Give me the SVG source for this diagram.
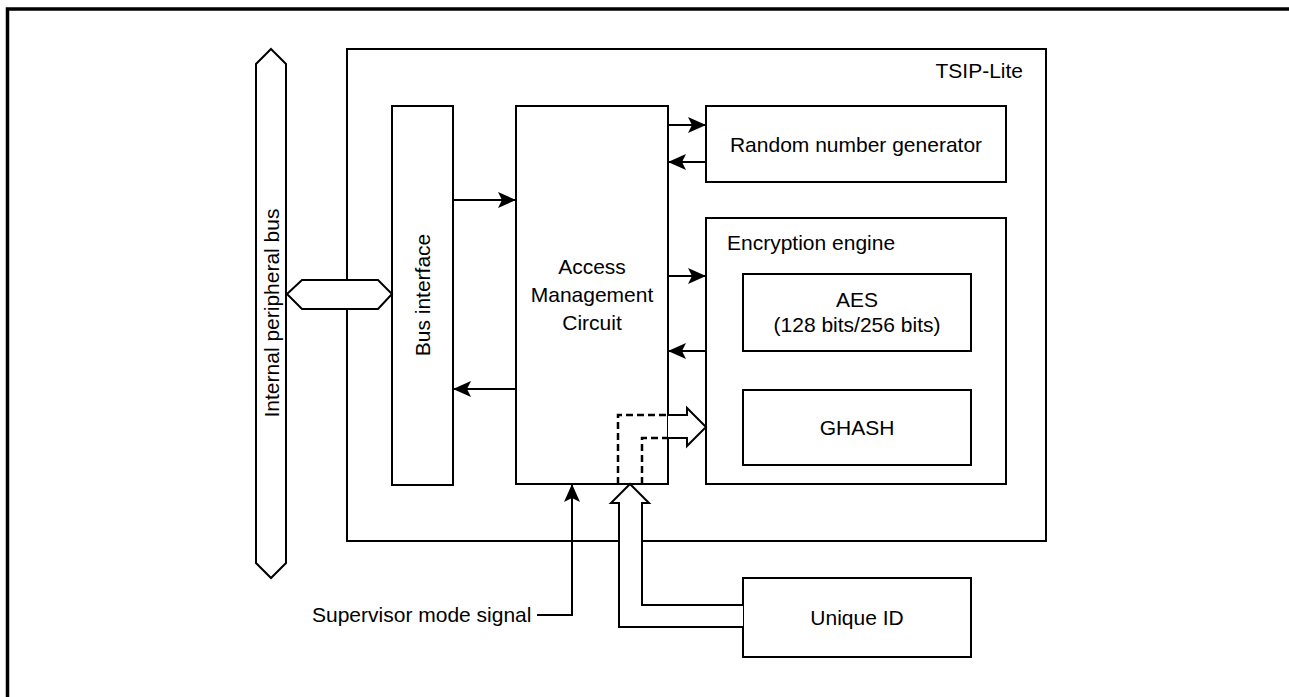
<svg xmlns="http://www.w3.org/2000/svg" width="1289" height="697" viewBox="0 0 1289 697">
<style>
.box{fill:none;stroke:#000;stroke-width:2}
.ln{fill:none;stroke:#000;stroke-width:2}
.dash{fill:none;stroke:#000;stroke-width:2.5;stroke-dasharray:7,4}
.hollow{fill:#fff;stroke:#000;stroke-width:2;stroke-linejoin:miter}
.t{font-family:"Liberation Sans",Arial,sans-serif;font-size:21px;fill:#000}
</style>
<defs>
<marker id="ahb" markerWidth="18" markerHeight="16" refX="18" refY="8" orient="auto" markerUnits="userSpaceOnUse">
<path d="M0,0 L18,8 L0,16 L4,8 Z" fill="#000"/>
</marker>
</defs>
<rect width="1289" height="697" fill="#fff"/>
<path d="M7.5,697 V9 H1289" fill="none" stroke="#000" stroke-width="3.5"/>

<g id="bus">
<polygon class="hollow" points="271,49 286,64 286,563 271,578 256,563 256,64"/>
<text class="t" transform="translate(278.5,313) rotate(-90)" text-anchor="middle">Internal peripheral bus</text>
</g>

<g id="tsip">
<rect class="box" x="347" y="49" width="699" height="492"/>
<text class="t" x="1023" y="78" text-anchor="end">TSIP-Lite</text>
</g>

<g id="busif">
<rect class="box" x="392" y="106" width="61" height="379"/>
<text class="t" transform="translate(430,295) rotate(-90)" text-anchor="middle">Bus interface</text>
</g>

<g id="amc">
<rect class="box" x="516" y="106" width="152" height="378"/>
<text class="t" x="592" y="274" text-anchor="middle">Access</text>
<text class="t" x="592" y="302" text-anchor="middle">Management</text>
<text class="t" x="592" y="330" text-anchor="middle">Circuit</text>
</g>

<g id="rng">
<rect class="box" x="706" y="106" width="300" height="76"/>
<text class="t" x="856" y="151.5" text-anchor="middle">Random number generator</text>
</g>

<g id="enc">
<rect class="box" x="706" y="218" width="300" height="266"/>
<text class="t" x="727" y="250">Encryption engine</text>
</g>

<g id="aes">
<rect class="box" x="743" y="274" width="228" height="77"/>
<text class="t" x="857" y="307" text-anchor="middle">AES</text>
<text class="t" x="857" y="332" text-anchor="middle">(128 bits/256 bits)</text>
</g>

<g id="ghash">
<rect class="box" x="743" y="390" width="228" height="75"/>
<text class="t" x="857" y="435" text-anchor="middle">GHASH</text>
</g>

<g id="uid">
<rect class="box" x="743" y="578" width="228" height="79"/>
<text class="t" x="857" y="625" text-anchor="middle">Unique ID</text>
</g>

<g id="supervisor">
<text class="t" x="312" y="622">Supervisor mode signal</text>
</g>

<g id="connectors">
<polygon class="hollow" points="287,294 302,280 378,280 392,294 378,309 302,309"/>
<line class="ln" x1="453" y1="200" x2="516" y2="200" marker-end="url(#ahb)"/>
<line class="ln" x1="516" y1="389" x2="453" y2="389" marker-end="url(#ahb)"/>
<line class="ln" x1="668" y1="125" x2="706" y2="125" marker-end="url(#ahb)"/>
<line class="ln" x1="706" y1="162" x2="668" y2="162" marker-end="url(#ahb)"/>
<line class="ln" x1="668" y1="276" x2="706" y2="276" marker-end="url(#ahb)"/>
<line class="ln" x1="706" y1="351" x2="668" y2="351" marker-end="url(#ahb)"/>
<polyline class="ln" points="537,615 572,615 572,484" marker-end="url(#ahb)"/>
<polyline class="dash" points="618,484 618,415 668,415"/>
<polyline class="dash" points="642,484 642,438 668,438"/>
<polyline class="hollow" fill="none" points="668,415 687,415 687,408 706,427 687,446 687,438 668,438"/>
<polyline class="hollow" fill="none" points="743,627 619,627 619,503 611,503 630,484 649,503 642,503 642,605 743,605"/>
</g>
</svg>
